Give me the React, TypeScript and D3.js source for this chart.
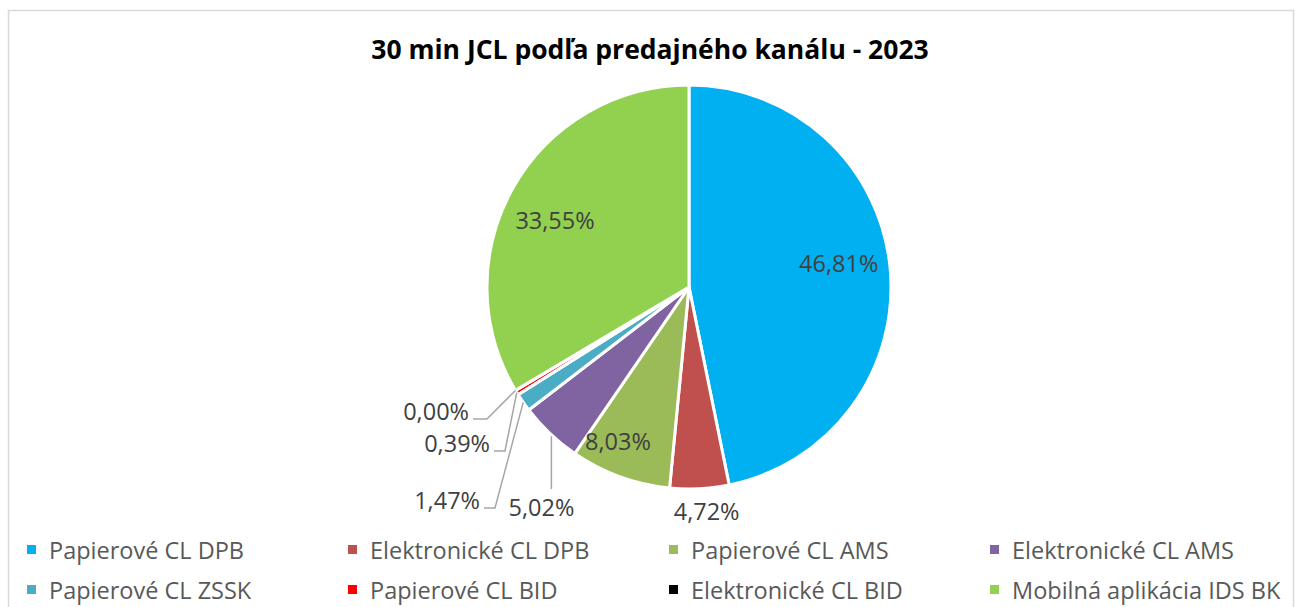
import React from "react";
import * as d3 from "d3";

const categories = [
  "Papierové CL DPB",
  "Elektronické CL DPB",
  "Papierové CL AMS",
  "Elektronické CL AMS",
  "Papierové CL ZSSK",
  "Papierové CL BID",
  "Elektronické CL BID",
  "Mobilná aplikácia IDS BK",
];
const values = [46.81, 4.72, 8.03, 5.02, 1.47, 0.39, 0.0, 33.55];
const colors = ["#00B0F0", "#C0504D", "#9BBB59", "#8064A2", "#4BACC6", "#FF0000", "#000000", "#92D050"];
const labels = ["46,81%", "4,72%", "8,03%", "5,02%", "1,47%", "0,39%", "0,00%", "33,55%"];

const W = 1300;
const H = 607;
const cx = 689;
const cy = 287;
const R = 202;
const font = "'Open Sans', sans-serif";

// label placement: inside / outside / leader down / leader with elbow
const labelMode = ["in", "out", "in", "down", "elbow", "elbow", "elbow", "in"];
// small nudges for inside labels (excel "best fit")
const labelNudge: [number, number][] = [
  [1, -9], [6, 0], [-20, 14], [0, 0], [0, 0], [0, 0], [0, 0], [-4, 7],
];
// where the elbow leaders end (relative to pie center)
const elbowEnd: Record<number, [number, number]> = {
  4: [-205, 221],
  5: [-195, 164],
  6: [-216, 132],
};

export default function App() {
  const pie = d3
    .pie<number>()
    .sort(null)
    .value((d) => d)(values);
  const arc = d3.arc<d3.PieArcDatum<number>>().innerRadius(0).outerRadius(R);
  const inArc = d3.arc<d3.PieArcDatum<number>>().innerRadius(R * 0.74).outerRadius(R * 0.74);

  const edge = (a: number, r: number): [number, number] => [Math.sin(a) * r, -Math.cos(a) * r];
  const txt = { fontFamily: font, fontSize: 23.5, fill: "#404040" };

  return (
    <svg width={W} height={H} style={{ display: "block", position: "absolute", left: 0, top: 0 }}>
      <rect x={0} y={0} width={W} height={H} fill="#fff" />
      <rect x={8.5} y={10.5} width={1285} height={620} fill="#fff" stroke="#d9d9d9" strokeWidth={1.5} />
      <text x={650} y={59} textAnchor="middle" fontFamily={font} fontWeight={700} fontSize={26.5} fill="#000">
        30 min JCL podľa predajného kanálu - 2023
      </text>
      <g transform={`translate(${cx},${cy})`}>
        {pie.map((p, i) => (
          <path key={i} d={arc(p) || ""} fill={colors[i]} stroke="#fff" strokeWidth={3} strokeLinejoin="round" />
        ))}
        {pie.map((p, i) => {
          const mid = (p.startAngle + p.endAngle) / 2;
          const mode = labelMode[i];
          const [nx, ny] = labelNudge[i];
          if (mode === "in") {
            const [x, y] = inArc.centroid(p);
            return (
              <text key={i} x={x + nx} y={y + ny} textAnchor="middle" dominantBaseline="central" {...txt}>
                {labels[i]}
              </text>
            );
          }
          if (mode === "out") {
            const [x, y] = edge(mid, R + 22);
            return (
              <text key={i} x={x + nx} y={y + ny} textAnchor="middle" dominantBaseline="central" {...txt}>
                {labels[i]}
              </text>
            );
          }
          if (mode === "down") {
            const [x0, y0] = edge(mid, R - 2);
            const y1 = 202;
            return (
              <g key={i}>
                <path d={`M${x0},${y0 + 4}L${x0},${y1}`} stroke="#a6a6a6" strokeWidth={1.5} fill="none" />
                <text x={x0 - 10} y={y1 + 18} textAnchor="middle" dominantBaseline="central" {...txt}>
                  {labels[i]}
                </text>
              </g>
            );
          }
          const [x0, y0] = edge(mid, R);
          const [ex, ey] = elbowEnd[i];
          const run = i === 6 ? 14 : 11;
          return (
            <g key={i}>
              <path d={`M${x0},${y0}L${ex + run},${ey}L${ex},${ey}`} stroke="#a6a6a6" strokeWidth={1.5} fill="none" />
              <text x={ex - 4} y={ey - 8} textAnchor="end" dominantBaseline="central" {...txt}>
                {labels[i]}
              </text>
            </g>
          );
        })}
      </g>
      <g>
        {categories.map((c, i) => {
          const col = i % 4;
          const row = Math.floor(i / 4);
          const x = 49 + col * 321;
          const y = 550 + row * 40;
          return (
            <g key={c} transform={`translate(${x},${y})`}>
              <rect x={-22} y={-5} width={9} height={9} fill={colors[i]} />
              <text x={0} y={0} dominantBaseline="central" fontFamily={font} fontSize={23.5} fill="#595959">
                {c}
              </text>
            </g>
          );
        })}
      </g>
    </svg>
  );
}
